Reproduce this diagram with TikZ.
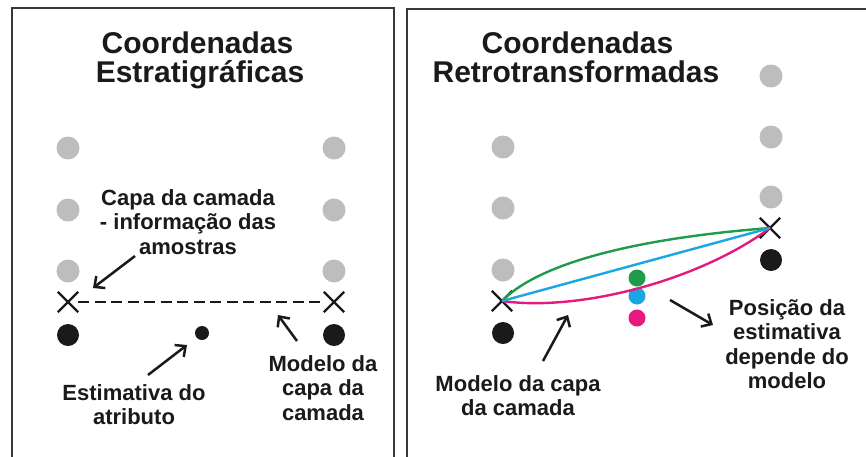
\documentclass[tikz,border=0pt]{standalone}
\usepackage{fontspec}
\setmainfont{Liberation Sans}
\usetikzlibrary{arrows.meta,shapes.misc}
\definecolor{dotgray}{HTML}{BDBDBD}
\definecolor{ink}{HTML}{1A1A1A}
\definecolor{cgreen}{HTML}{1E9C4B}
\definecolor{cblue}{HTML}{1AA7E1}
\definecolor{cmag}{HTML}{E6197F}
\begin{document}
\begin{tikzpicture}[x=1pt,y=-1pt,
  panel/.style={draw=black!78,line width=2.6pt},
  titletext/.style={font=\fontsize{30}{29}\selectfont\bfseries,text=ink,inner sep=0pt,anchor=base},
  labeltext/.style={font=\fontsize{22}{24.5}\selectfont\bfseries,text=ink,inner sep=0pt,anchor=north,align=center},
  graydot/.style={circle,fill=dotgray,inner sep=0pt,minimum size=23pt},
  blackdot/.style={circle,fill=ink,inner sep=0pt,minimum size=22pt},
  smalldot/.style={circle,fill=ink,inner sep=0pt,minimum size=14pt},
  coldot/.style={circle,inner sep=0pt,minimum size=17pt},
  xmark/.style={cross out,draw=ink,line width=2.3pt,inner sep=0pt,minimum size=18pt},
  pointer/.style={draw=ink,line width=2.5pt,-{Straight Barb[length=8pt,width=15pt,line width=2.5pt]}},
  curve/.style={line width=2.4pt}]
\useasboundingbox (0,0) rectangle (866,456);
\clip (0,0) rectangle (866,456);
\fill[white] (0,0) rectangle (866,456);
% panels
\draw[panel] (12,8) rectangle (394,470);
\draw[panel] (407,9) rectangle (880,470);
% titles
\node[titletext] (t1a) at (197.5,53) {Coordenadas};
\node[titletext] (t1b) at (200,82) {Estratigráficas};
\node[titletext] (t2a) at (577.5,53) {Coordenadas};
\node[titletext] (t2b) at (576,82) {Retrotransformadas};
% left panel dots
\node[graydot] (lg1) at (68,148) {};
\node[graydot] (lg2) at (68,210) {};
\node[graydot] (lg3) at (68,271) {};
\node[graydot] (rg1) at (334,148) {};
\node[graydot] (rg2) at (334,210) {};
\node[graydot] (rg3) at (334,271) {};
\node[xmark] (lx1) at (68,302) {};
\node[xmark] (lx2) at (334,302) {};
\node[blackdot] (lb1) at (68,335) {};
\node[blackdot] (lb2) at (334,335) {};
\node[smalldot] (est) at (202,333) {};
\draw[ink,line width=2.2pt,dash pattern=on 11pt off 5.5pt] (lx1) -- (lx2);
% left labels
\node[labeltext] (capa) at (188,189) {Capa da camada\\- informação das\\amostras};
\node[labeltext] (estlab) at (134,384) {Estimativa do\\atributo};
\node[labeltext] (modl) at (323,355) {Modelo da\\capa da\\camada};
\coordinate (a1s) at (135,256); \coordinate (a1e) at (93,288);
\coordinate (a2s) at (148,375); \coordinate (a2e) at (187,345);
\coordinate (a3s) at (297,341); \coordinate (a3e) at (278,315);
\draw[pointer] (a1s) -- (a1e);
\draw[pointer] (a2s) -- (a2e);
\draw[pointer] (a3s) -- (a3e);
% right panel dots
\node[graydot] (lg4) at (503,147) {};
\node[graydot] (lg5) at (503,208) {};
\node[graydot] (lg6) at (503,270) {};
\node[graydot] (rg4) at (771,76) {};
\node[graydot] (rg5) at (771,137) {};
\node[graydot] (rg6) at (771,197) {};
\node[xmark] (rx1) at (502,301) {};
\node[xmark] (rx2) at (770,228) {};
\node[blackdot] (rb1) at (503,333) {};
\node[blackdot] (rb2) at (771,260) {};
\node[coldot,fill=cgreen] (gd) at (637,278) {};
\node[coldot,fill=cblue] (bd) at (637,296) {};
\node[coldot,fill=cmag] (md) at (637,318) {};
% curves
\draw[curve,cgreen] (rx1.center) .. controls (540,262) and (640,238) .. (rx2.center);
\draw[curve,cmag] (rx1.center) .. controls (580,312) and (700,280) .. (rx2.center);
\draw[curve,cblue] (rx1.center) -- (rx2.center);
% right labels
\node[labeltext] (modr) at (518,375) {Modelo da capa\\da camada};
\node[labeltext] (pos) at (787,299) {Posição da\\estimativa\\depende do\\modelo};
\coordinate (a4s) at (543,361); \coordinate (a4e) at (568,315);
\coordinate (a5s) at (670,300); \coordinate (a5e) at (713,325);
\draw[pointer] (a4s) -- (a4e);
\draw[pointer] (a5s) -- (a5e);
\end{tikzpicture}
\end{document}
